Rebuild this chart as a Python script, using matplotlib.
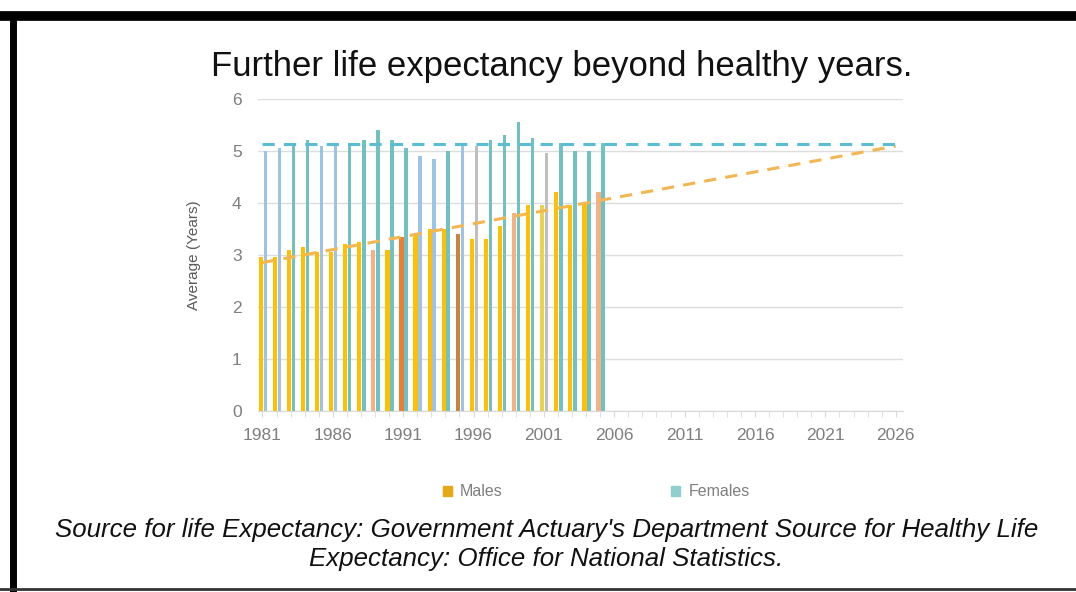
import numpy as np
import matplotlib.pyplot as plt
from matplotlib.lines import Line2D
from matplotlib.patches import Patch

plt.rcParams['font.family'] = ['Liberation Sans', 'DejaVu Sans']

years = list(range(1981, 2006))
males = [2.95, 2.95, 3.1, 3.15, 3.05, 3.05, 3.2, 3.25, 3.1, 3.1,
         3.35, 3.4, 3.5, 3.5, 3.4, 3.3, 3.3, 3.55, 3.8, 3.95,
         3.95, 4.2, 3.95, 4.0, 4.2]
females = [5.0, 5.05, 5.15, 5.2, 5.1, 5.1, 5.15, 5.2, 5.4, 5.2,
           5.05, 4.9, 4.85, 5.0, 5.15, 5.1, 5.2, 5.3, 5.55, 5.25,
           4.95, 5.15, 5.0, 5.0, 5.15]
male_colors = ['#FFC000', '#FFC000', '#FFC000', '#FFC000', '#FFC000', '#FFC000', '#FFC000', '#FFC000',
               '#F4B183', '#FFC000', '#ED7D31', '#FFC000', '#FFC000', '#FFC000', '#C9853B', '#FFC000',
               '#FFC000', '#FFC000', '#F4B183', '#FFC000', '#E8D44D', '#FFC000', '#FFC000', '#FFC000',
               '#F4B183']
female_colors = ['#9DC3E6', '#9DC3E6', '#70C1C1', '#70C1C1', '#9DC3E6', '#9DC3E6', '#70C1C1', '#70C1C1',
                 '#70C1C1', '#70C1C1', '#70C1C1', '#9DC3E6', '#9DC3E6', '#70C1C1', '#9DC3E6', '#BFBFBF',
                 '#70C1C1', '#70C1C1', '#70C1C1', '#70C1C1', '#BFBFBF', '#70C1C1', '#70C1C1', '#70C1C1',
                 '#70C1C1']
trend_years = [1981, 2026]
tick_years = list(range(1981, 2027, 5))

fig = plt.figure(figsize=(10.76, 5.92), dpi=100)
ax = fig.add_axes([0.240, 0.306, 0.599, 0.527])

x = np.array(years)
ax.bar(x - 0.12, males, width=0.3, color=male_colors, zorder=2)
ax.bar(x + 0.2, females, width=0.25, color=female_colors, zorder=2)

# trend lines
mfit = np.polyfit(years, males, 1)
ty = np.array(trend_years)
ax.plot(ty, np.polyval(mfit, ty), color='#F4B650', lw=2.2, ls=(0, (4, 3)), zorder=3)
fmean = np.mean(females)
ax.plot(ty, [fmean, fmean], color='#5BBCD6', lw=2.2, ls=(0, (4, 3)), zorder=3)

ax.set_xlim(1980.7, 2026.5)
ax.set_ylim(0, 6)
ax.set_xticks(tick_years)
ax.set_xticks(range(1981, 2027), minor=True)
ax.set_yticks(range(0, 7))
ax.grid(axis='y', color='#DDDDDD', lw=1, zorder=0)
for s in ['top', 'right', 'left']:
    ax.spines[s].set_visible(False)
ax.spines['bottom'].set_color('#D9D9D9')
ax.tick_params(axis='x', which='both', colors='#D9D9D9', labelcolor='#7F7F7F',
               labelsize=12.5, length=4, pad=8)
ax.tick_params(axis='y', length=0, labelcolor='#7F7F7F', labelsize=12.5, pad=12)
ax.set_ylabel('Average (Years)', color='#595959', fontsize=11, labelpad=22)

fig.text(0.522, 0.888, 'Further life expectancy beyond healthy years.',
         ha='center', va='center', fontsize=25, color='#111111')

handles = [Patch(color='#E6A817'), Patch(color='#8FCFCF')]
fig.legend(handles, ['Males', 'Females'], loc='center', bbox_to_anchor=(0.554, 0.169),
           ncol=2, frameon=False, fontsize=11.5, labelcolor='#7F7F7F',
           handlelength=0.6, handleheight=0.6, columnspacing=10.5, handletextpad=0.5)

fig.text(0.508, 0.08,
         "Source for life Expectancy: Government Actuary's Department Source for Healthy Life\nExpectancy: Office for National Statistics.",
         ha='center', va='center', fontsize=18.6, style='italic', color='#111111',
         linespacing=1.28)

# black frame
fig.add_artist(Line2D([0, 1], [0.973, 0.973], transform=fig.transFigure, color='black', lw=7))
fig.add_artist(Line2D([0.0125, 0.0125], [0.005, 0.975], transform=fig.transFigure, color='black', lw=5))
fig.add_artist(Line2D([0, 1], [0.005, 0.005], transform=fig.transFigure, color='#333333', lw=2))

fig.savefig('out.png', dpi=100)
